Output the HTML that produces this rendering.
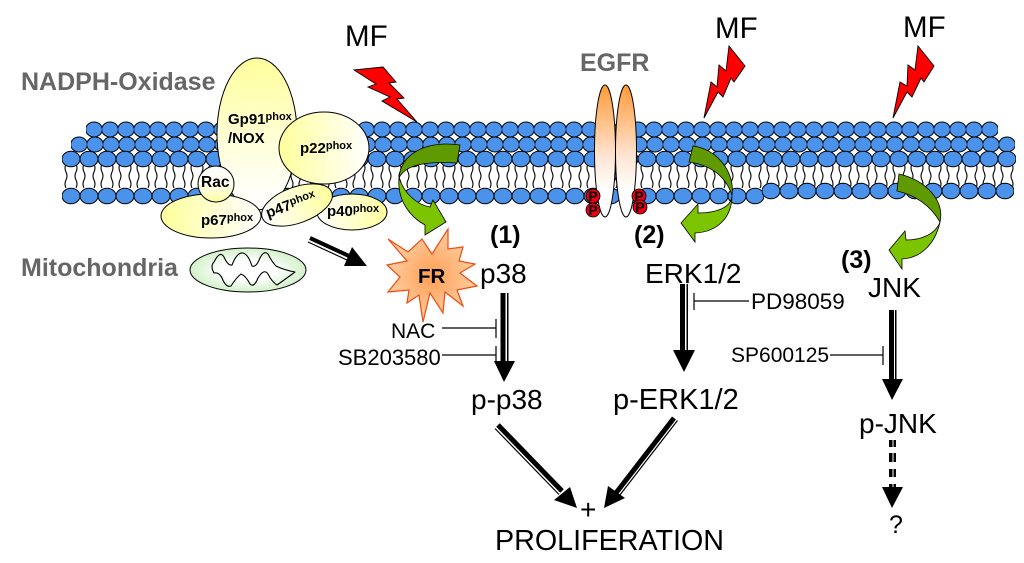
<!DOCTYPE html>
<html><head><meta charset="utf-8"><style>
html,body{margin:0;padding:0;background:#fff}
svg{display:block;filter:blur(.35px)}
text{font-family:"Liberation Sans",sans-serif;fill:#000}
.b{font-weight:bold}
.g{font-weight:bold;fill:#666}
</style></head><body>
<svg width="1024" height="563" viewBox="0 0 1024 563" xmlns="http://www.w3.org/2000/svg">
<defs>
<g id="e1"><ellipse cx="-8" cy="9.500" rx="8.300" ry="7.500"/><ellipse cx="24" cy="9.500" rx="8.300" ry="7.500"/><ellipse cx="8" cy="9.500" rx="8.300" ry="7.500"/></g>
<g id="e3"><ellipse cx="-9" cy="10" rx="9" ry="7.700"/><ellipse cx="27" cy="10" rx="9" ry="7.700"/><ellipse cx="9" cy="10" rx="9" ry="7.700"/></g>
<pattern id="r1" x="86" y="120" width="16" height="20" patternUnits="userSpaceOnUse"><use href="#e1" fill="#4a92ea" stroke="#000" stroke-width="1"/></pattern>
<pattern id="r2" x="71" y="135" width="16" height="20" patternUnits="userSpaceOnUse"><use href="#e1" fill="#4a92ea" stroke="#000" stroke-width="1"/></pattern>
<pattern id="r3" x="62" y="149" width="18" height="20" patternUnits="userSpaceOnUse"><use href="#e3" fill="#4a92ea" stroke="#000" stroke-width="1"/></pattern>
<pattern id="r4" x="62" y="186" width="18" height="20" patternUnits="userSpaceOnUse"><use href="#e3" fill="#4a92ea" stroke="#000" stroke-width="1"/></pattern>
<pattern id="r5" x="762" y="181" width="18" height="20" patternUnits="userSpaceOnUse"><use href="#e3" fill="#4a92ea" stroke="#000" stroke-width="1"/></pattern>
<pattern id="t1" x="62" y="164" width="18" height="24" patternUnits="userSpaceOnUse"><path d="M4,0q-2,4 0,8t0,8t0,8M14,0q2,4 0,8t0,8t0,8" fill="none" stroke="#000" stroke-width="1.100"/></pattern>
<linearGradient id="gv" x1="0" y1="0" x2="0" y2="1"><stop offset="0" stop-color="#ffff9c"/><stop offset=".8" stop-color="#fffff2"/><stop offset="1" stop-color="#fff"/></linearGradient>
<linearGradient id="gh" x1="0" y1="0" x2="1" y2="0"><stop offset="0" stop-color="#ffff9c"/><stop offset="1" stop-color="#fff"/></linearGradient>
<linearGradient id="ghr" x1="0" y1="0" x2="1" y2="0"><stop offset="0" stop-color="#fff"/><stop offset="1" stop-color="#ffff9c"/></linearGradient>
<linearGradient id="grac" x1="0" y1="0" x2="0" y2="1"><stop offset="0" stop-color="#fff"/><stop offset=".5" stop-color="#fffff0"/><stop offset="1" stop-color="#ffffa0"/></linearGradient>
<linearGradient id="eg" x1="0" y1="0" x2="0" y2="1"><stop offset="0" stop-color="#ff9b38"/><stop offset=".55" stop-color="#ffe6d6"/><stop offset=".8" stop-color="#fff"/></linearGradient>
<radialGradient id="mito"><stop offset=".45" stop-color="#fff"/><stop offset="1" stop-color="#d2f1c8"/></radialGradient>
<radialGradient id="star" cx=".5" cy=".5" r=".55"><stop offset="0" stop-color="#ff9f55"/><stop offset="1" stop-color="#ffd3a8"/></radialGradient>
</defs>

<!-- membrane -->
<rect x="62" y="164" width="954" height="24" fill="url(#t1)"/>
<rect x="86" y="120" width="912" height="20" fill="url(#r1)"/>
<rect x="71" y="135" width="944" height="20" fill="url(#r2)"/>
<rect x="62" y="149" width="954" height="20" fill="url(#r3)"/>
<rect x="62" y="186" width="702" height="20" fill="url(#r4)"/>
<rect x="762" y="181" width="252" height="20" fill="url(#r5)"/>

<!-- labels grey -->
<text class="g" x="21" y="90" font-size="25">NADPH-Oxidase</text>
<text class="g" x="21" y="276" font-size="25">Mitochondria</text>
<text class="g" x="580" y="71" font-size="25">EGFR</text>

<!-- NADPH complex -->
<ellipse cx="257" cy="134" rx="40" ry="76" fill="url(#gv)" stroke="#000" stroke-width="1"/>
<ellipse cx="352" cy="212" rx="35" ry="18" fill="url(#ghr)" stroke="#000" stroke-width="1"/>
<ellipse cx="324" cy="148" rx="45" ry="36" fill="url(#gh)" stroke="#000" stroke-width="1"/>
<ellipse cx="211" cy="216" rx="50" ry="22" fill="url(#gh)" stroke="#000" stroke-width="1"/>
<ellipse cx="297" cy="205" rx="37" ry="18" transform="rotate(-20 297 205)" fill="url(#ghr)" stroke="#000" stroke-width="1"/>
<circle cx="216" cy="184" r="18" fill="url(#grac)" stroke="#000" stroke-width="1"/>
<text class="b" x="228" y="124" font-size="15">Gp91<tspan font-size="11" dy="-4">phox</tspan></text>
<text class="b" x="228" y="143" font-size="15">/NOX</text>
<text class="b" x="300" y="153" font-size="15">p22<tspan font-size="11" dy="-4">phox</tspan></text>
<text class="b" x="201" y="187" font-size="15.500">Rac</text>
<text class="b" x="201" y="225" font-size="15">p67<tspan font-size="11" dy="-4">phox</tspan></text>
<text class="b" x="268" y="218" font-size="15" transform="rotate(-20 268 218)">p47<tspan font-size="11" dy="-4">phox</tspan></text>
<text class="b" x="327" y="216" font-size="15">p40<tspan font-size="11" dy="-4">phox</tspan></text>

<!-- mitochondrion -->
<ellipse cx="248" cy="270" rx="58" ry="22" fill="url(#mito)" stroke="#000" stroke-width="1"/>
<path d="M214,273 Q210,266 214,262 Q220,250 224,257 Q228,266 232,265 Q237,252 243,253 Q248,254 252,266 Q256,268 260,258 Q264,250 268,254 Q272,262 276,266 Q284,270 295,272 Q287,278 277,285 Q272,282 268,274 Q264,268 258,278 Q254,288 250,284 Q246,276 241,274 Q236,278 231,286 Q226,288 222,278 Q219,272 214,273Z" fill="none" stroke="#000" stroke-width="1.100" stroke-linejoin="round"/>

<!-- EGFR -->
<ellipse cx="605" cy="151" rx="10.500" ry="66" fill="url(#eg)" stroke="#000" stroke-width="1"/>
<ellipse cx="626" cy="151" rx="10.500" ry="66" fill="url(#eg)" stroke="#000" stroke-width="1"/>
<g fill="#e60012" stroke="#000" stroke-width=".8">
<circle cx="593" cy="196" r="7"/><circle cx="593" cy="210" r="7"/>
<circle cx="639" cy="196" r="7"/><circle cx="640" cy="207" r="7"/>
</g>
<g font-size="14" font-weight="bold" text-anchor="middle">
<text x="593" y="201">P</text><text x="593" y="215">P</text>
<text x="639" y="201">P</text><text x="640" y="212">P</text>
</g>

<!-- bolts -->
<g fill="#f00" stroke="#000" stroke-width=".9" stroke-linejoin="miter">
<polygon points="354,70 383,67 396,82 389,83 404,98 397,99 417,122 382,101 390,97 368,87 376,84"/>
<polygon points="704,118 711,82 717,87 719,65 726,71 729,46 745,66 734,82 731,78 723,97 718,92"/>
<polygon points="893,118 900,82 907,86 908,65 915,70 918,46 934,66 924,82 921,78 912,97 907,92"/>
</g>
<text x="345" y="46" font-size="29.500">MF</text>
<text x="715" y="38" font-size="29.500">MF</text>
<text x="903" y="37" font-size="29.500">MF</text>

<!-- green arrows -->
<g stroke="#000" stroke-width=".8" stroke-linejoin="miter">
<path d="M399,178 C397,200 410,217 425,225 L425,235 L446,222 L433,200 L430,207 C418,205 405,195 399,178Z" fill="#7cc400"/>
<path d="M460,145 C425,140 400,155 399,178 C405,165 425,161 457,163Z" fill="#5f9a00"/>
<path d="M732,195 C732,220 715,232 695,233 L695,242 L681,223 L698,204 L698,213 C715,213 732,208 732,195Z" fill="#7cc400"/>
<path d="M693,146 C720,150 735,175 732,195 C725,175 710,165 689,162Z" fill="#5f9a00"/>
<path d="M940,222 C935,245 920,258 902,259 L902,269 L889,250 L905,231 L906,240 C920,240 935,235 940,222Z" fill="#7cc400"/>
<path d="M899,174 C925,180 945,200 940,222 C930,205 915,195 897,191Z" fill="#5f9a00"/>
</g>

<!-- FR star -->
<polygon points="388,239 408,252 422,239 432,254 448,229 448,249 463,247 459,261 475,264 460,273 477,286 457,290 463,306 445,292 443,313 430,293 423,322 419,295 407,303 409,290 388,292 400,277 387,265 407,261" fill="url(#star)" stroke="#f24a12" stroke-width="1.200"/>
<text class="b" x="418" y="283" font-size="20.500">FR</text>

<!-- mito to FR arrow -->
<path d="M310,238 L349,256" stroke="#000" stroke-width="4" fill="none"/>
<path d="M308,242 L347,260" stroke="#000" stroke-width="1.200" fill="none"/>
<polygon points="367,266 352,247 344,266"/>

<!-- p38 -->
<rect x="500.500" y="293" width="5" height="70"/>
<rect x="507" y="293" width="1.500" height="70"/>
<polygon points="494,361 515,361 504,382"/>
<path d="M442,328 H496 M496,319 V338 M442,355 H496 M496,346 V362" stroke="#000" stroke-width="1.200" fill="none"/>

<!-- ERK -->
<rect x="680" y="284" width="5" height="68"/>
<rect x="686.500" y="284" width="1.500" height="68"/>
<polygon points="673,350 695,350 684,372"/>
<path d="M694,301 H749 M694,293 V310" stroke="#000" stroke-width="1.200" fill="none"/>

<!-- JNK -->
<rect x="889" y="310" width="5" height="71"/>
<rect x="895" y="310" width="1.500" height="71"/>
<polygon points="882,379 903,379 892,400"/>
<path d="M830,355 H883 M883,346 V365" stroke="#000" stroke-width="1.200" fill="none"/>
<g>
<rect x="889" y="440" width="3.500" height="7"/><rect x="893.500" y="440" width="2.500" height="7"/>
<rect x="889" y="453" width="3.500" height="9"/><rect x="893.500" y="453" width="2.500" height="9"/>
<rect x="889" y="469" width="3.500" height="8"/><rect x="893.500" y="469" width="2.500" height="8"/>
<rect x="889" y="484" width="3.500" height="4"/><rect x="893.500" y="484" width="2.500" height="4"/>
</g>
<polygon points="882,487 903,487 892,508"/>

<!-- to proliferation -->
<path d="M498,425 L562,491" stroke="#000" stroke-width="5" fill="none"/>
<path d="M495,428.500 L559,494.500" stroke="#000" stroke-width="1.200" fill="none"/>
<polygon points="577,508 554,500 570,487"/>
<path d="M674,418 L616,493" stroke="#000" stroke-width="5" fill="none"/>
<path d="M677.500,420.500 L619.500,495.500" stroke="#000" stroke-width="1.200" fill="none"/>
<polygon points="604,508 608,486 625,498"/>

<!-- text -->
<text class="b" x="490" y="243" font-size="25">(1)</text>
<text class="b" x="634" y="243" font-size="25">(2)</text>
<text class="b" x="841" y="268" font-size="25">(3)</text>
<text x="480" y="283" font-size="28">p38</text>
<text x="645" y="283" font-size="28">ERK1/2</text>
<text x="868" y="297" font-size="28">JNK</text>
<text x="471" y="409" font-size="28">p-p38</text>
<text x="613" y="409" font-size="29">p-ERK1/2</text>
<text x="859" y="433" font-size="28">p-JNK</text>
<text x="391" y="338" font-size="21">NAC</text>
<text x="338" y="365" font-size="22">SB203580</text>
<text x="751" y="309" font-size="22.500">PD98059</text>
<text x="731" y="362" font-size="21">SP600125</text>
<text x="580" y="519" font-size="28">+</text>
<text x="495" y="550" font-size="28.700">PROLIFERATION</text>
<text x="889" y="533" font-size="25">?</text>
</svg>
</body></html>
